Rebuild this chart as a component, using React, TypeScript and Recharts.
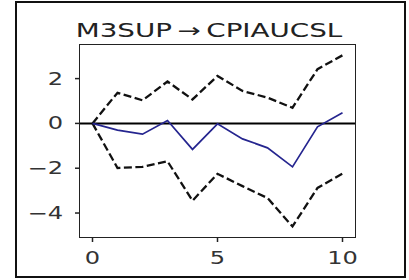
import React from 'react';
import { ComposedChart, Line, XAxis, YAxis, ReferenceLine } from 'recharts';

const steps = [0, 1, 2, 3, 4, 5, 6, 7, 8, 9, 10];
const response = [0, -0.3, -0.48, 0.13, -1.16, -0.02, -0.69, -1.09, -1.94, -0.15, 0.48];
const upperBand = [0, 1.37, 1.03, 1.87, 1.07, 2.12, 1.45, 1.15, 0.7, 2.42, 3.04];
const lowerBand = [0, -1.99, -1.94, -1.69, -3.45, -2.25, -2.8, -3.33, -4.6, -2.88, -2.24];
const xTicks = [0, 5, 10];
const yTicks = [-4, -2, 0, 2];

const title = 'M3SUP\u2009\u2192\u2009CPIAUCSL';

const data = steps.map((s, i) => ({
  step: s,
  irf: response[i],
  upper: upperBand[i],
  lower: lowerBand[i],
}));

const font = 'DejaVu Sans, sans-serif';
// the source image is stretched sideways, so text gets widened too
const stretch = 1.42;

const fmt = (v: number) => (v < 0 ? `\u2212${Math.abs(v)}` : `${v}`);

const XTick = (props: any) => {
  const { x, y, payload } = props;
  return (
    <text
      transform={`translate(${x},${y}) scale(${stretch},1)`}
      textAnchor="middle"
      dy="0.71em"
      fill="#333"
      fontSize={17}
      fontFamily={font}
    >
      {fmt(payload.value)}
    </text>
  );
};

const YTick = (props: any) => {
  const { x, y, payload } = props;
  return (
    <text
      transform={`translate(${x},${y}) scale(${stretch},1)`}
      textAnchor="end"
      dy="0.355em"
      fill="#333"
      fontSize={17}
      fontFamily={font}
    >
      {fmt(payload.value)}
    </text>
  );
};

const App: React.FC = () => {
  return (
    <div style={{ position: 'absolute', left: 0, top: 0, width: 409, height: 280, background: '#fff' }}>
      {/* outer frame around the figure */}
      <div
        style={{
          position: 'absolute',
          left: 15,
          top: 1,
          width: 391,
          height: 277,
          boxSizing: 'border-box',
          border: '2px solid #111',
        }}
      />
      <div
        style={{
          position: 'absolute',
          left: 0,
          top: 18,
          width: 418,
          textAlign: 'center',
          fontFamily: font,
          fontSize: 19,
          lineHeight: '24px',
          color: '#222',
          transform: `scaleX(${stretch + 0.04})`,
        }}
      >
        {title}
      </div>
      <div style={{ position: 'absolute', left: 0, top: 0 }}>
        <ComposedChart
          width={409}
          height={280}
          data={data}
          margin={{ top: 45, right: 54, bottom: 13, left: 20 }}
        >
          <XAxis
            dataKey="step"
            type="number"
            domain={[-0.5, 10.5]}
            ticks={xTicks}
            height={30}
            tickSize={5}
            tickMargin={10}
            axisLine={false}
            tickLine={{ stroke: '#222', strokeWidth: 1.5 }}
            tick={<XTick />}
          />
          <YAxis
            type="number"
            domain={[-5.07, 3.5]}
            ticks={yTicks}
            width={60}
            tickSize={5}
            tickMargin={12}
            axisLine={false}
            tickLine={{ stroke: '#222', strokeWidth: 1.5 }}
            tick={<YTick />}
          />
          <ReferenceLine y={0} stroke="#000" strokeWidth={2} />
          <Line
            type="linear"
            dataKey="upper"
            stroke="#111"
            strokeWidth={2.3}
            strokeDasharray="8 3.5"
            dot={false}
            isAnimationActive={false}
          />
          <Line
            type="linear"
            dataKey="lower"
            stroke="#111"
            strokeWidth={2.3}
            strokeDasharray="8 3.5"
            dot={false}
            isAnimationActive={false}
          />
          <Line
            type="linear"
            dataKey="irf"
            stroke="#25258f"
            strokeWidth={1.7}
            dot={false}
            isAnimationActive={false}
          />
        </ComposedChart>
      </div>
      {/* plot-area box (matplotlib spines) */}
      <div
        style={{
          position: 'absolute',
          left: 79,
          top: 44,
          width: 277,
          height: 194,
          boxSizing: 'border-box',
          border: '1.5px solid #222',
          pointerEvents: 'none',
        }}
      />
    </div>
  );
};

export default App;
